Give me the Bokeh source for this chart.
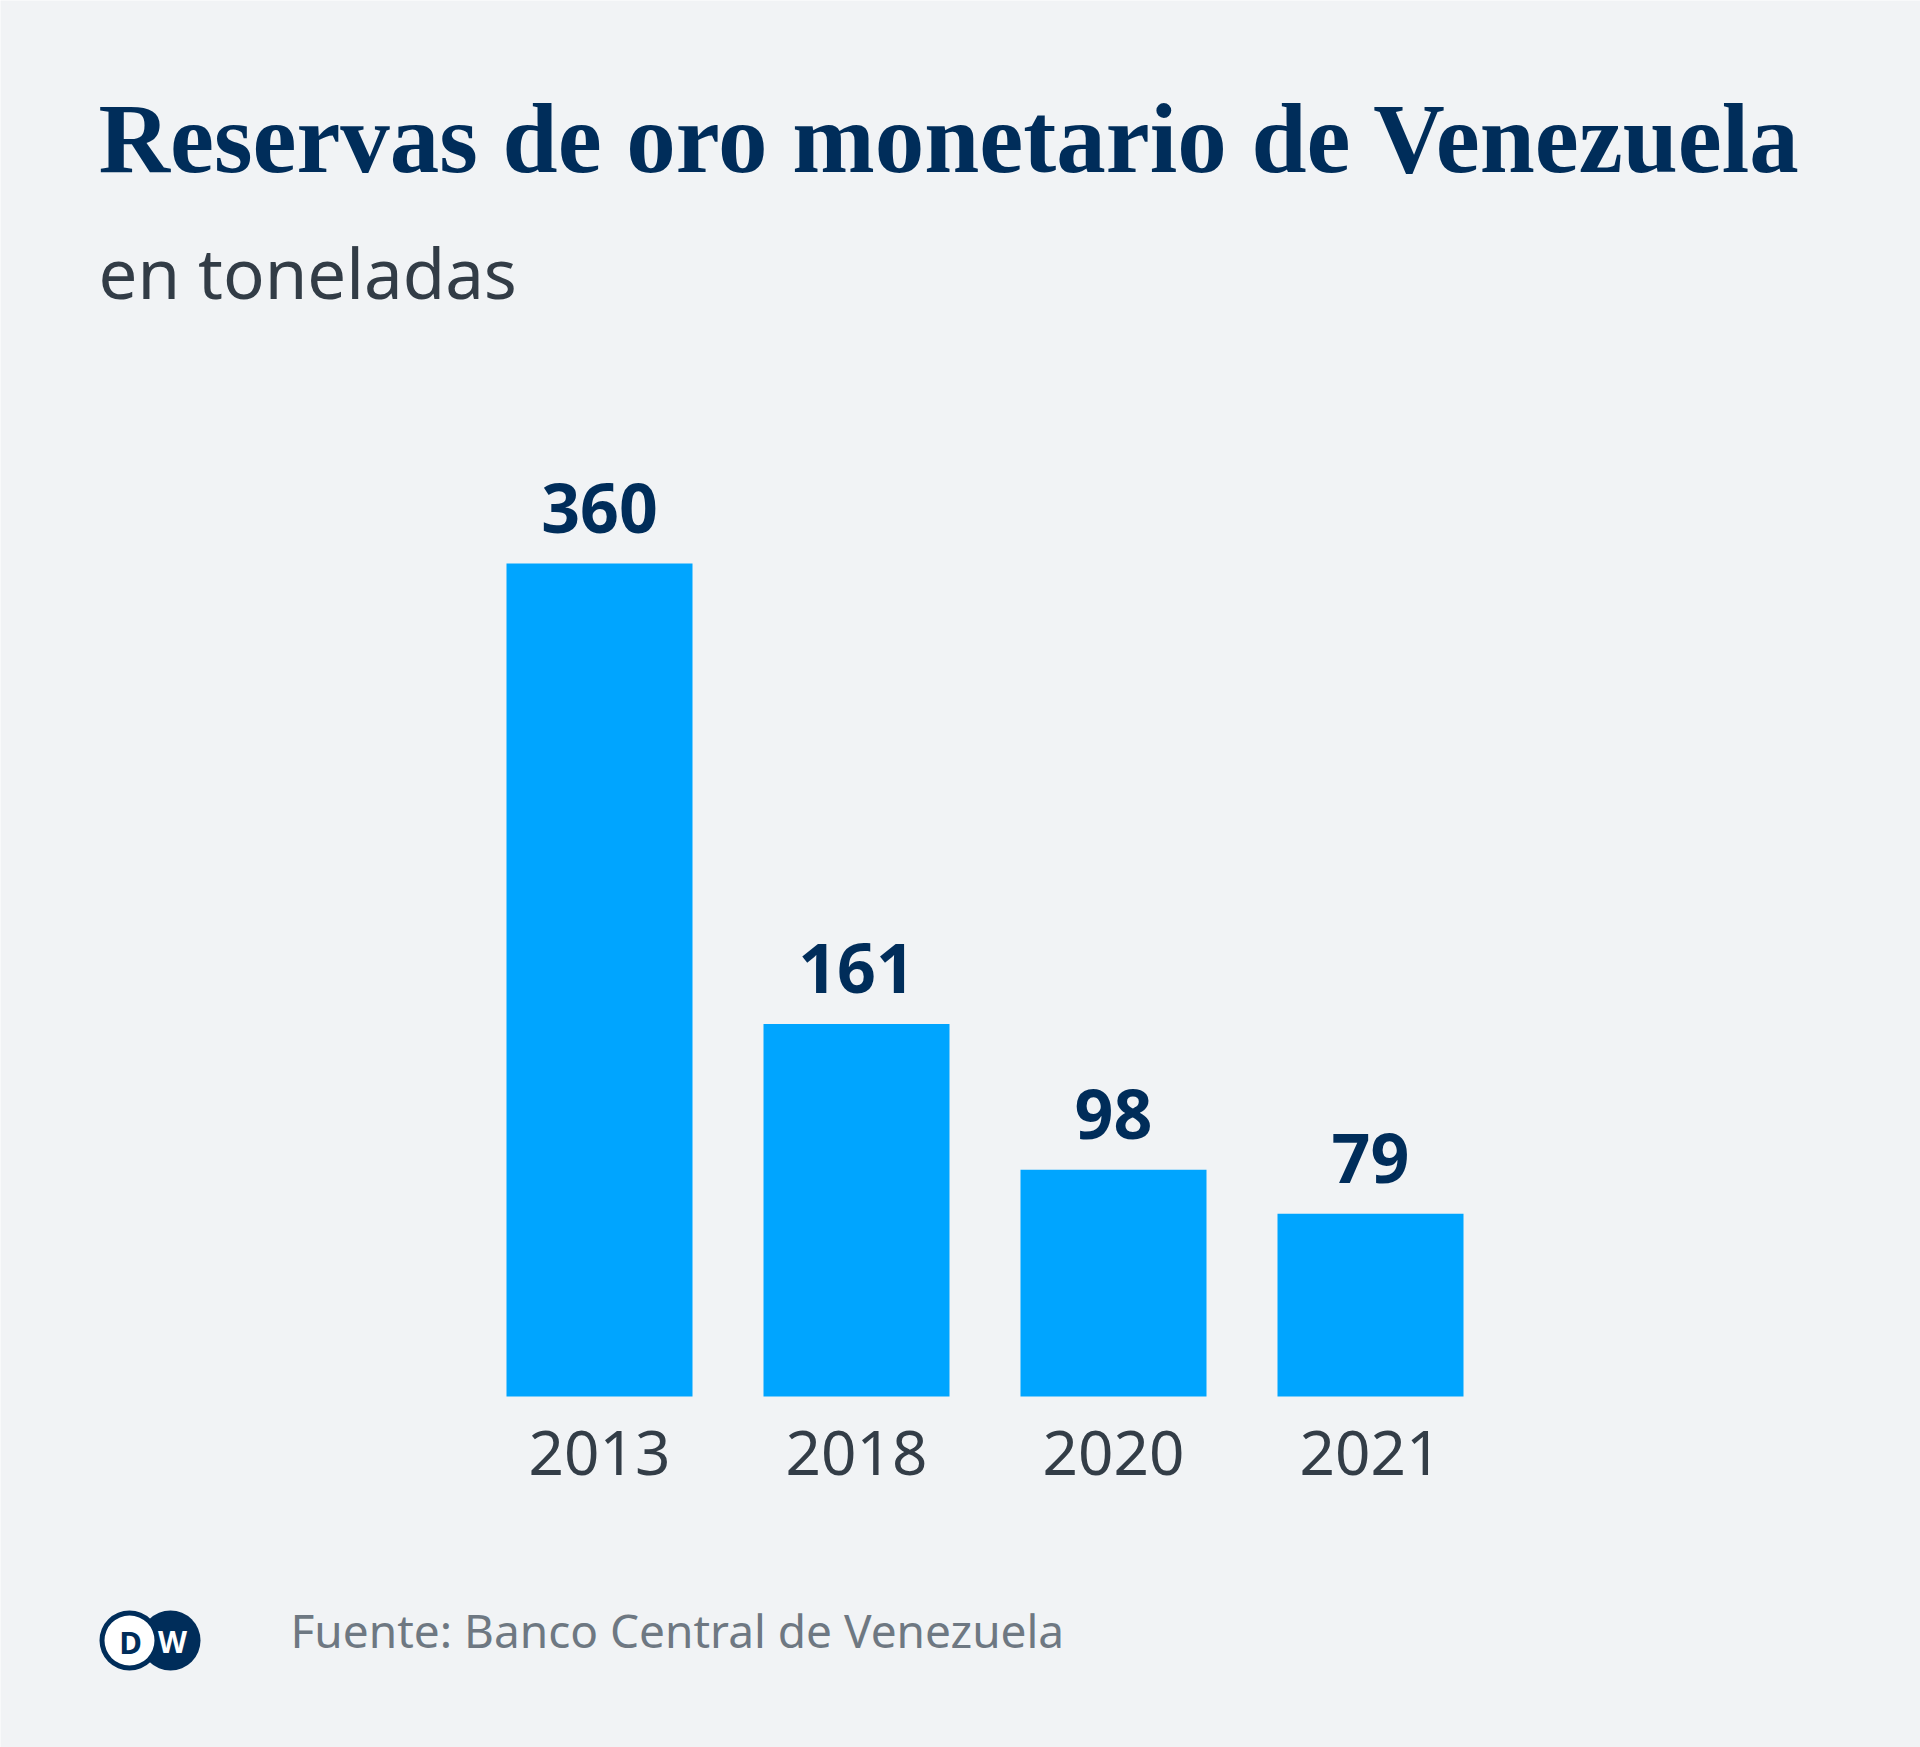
from bokeh.plotting import figure
from bokeh.models import Range1d, ColumnDataSource
from bokeh.core.properties import value
from bokeh.embed import file_html
from bokeh.resources import INLINE

# ---- data ----
years = ["2013", "2018", "2020", "2021"]
tons = [360, 161, 98, 79]
value_labels = ["360", "161", "98", "79"]
title_text = "Reservas de oro monetario de Venezuela"
subtitle_text = "en toneladas"
source_text = "Fuente: Banco Central de Venezuela"

# ---- style / layout ----
W, H = 1920, 1747
BG = "#f1f3f5"
NAVY = "#002d5a"
BAR = "#00a5ff"
GREY_DARK = "#333d47"
GREY_SRC = "#6e7882"

bar_pitch = 257.0        # px between bar centres
first_center = 599.0     # px, centre of first bar
base_px = 1396.0         # px from top, bars' baseline
px_per_unit = 833.0 / 360.0
bar_width_px = 186.0

x_start = -first_center / bar_pitch
x_end = x_start + W / bar_pitch
y_start = -(H - base_px) / px_per_unit
y_end = y_start + H / px_per_unit

p = figure(width=W, height=H,
           x_range=Range1d(x_start, x_end), y_range=Range1d(y_start, y_end),
           output_backend="svg", toolbar_location=None, min_border=0,
           x_axis_location=None, y_axis_location=None,
           background_fill_color=BG, border_fill_color=BG, outline_line_color=None)
p.grid.visible = False
p.extra_x_ranges = {"px": Range1d(0, W)}
p.extra_y_ranges = {"px": Range1d(H, 0)}

src = ColumnDataSource(dict(x=list(range(len(years))), top=tons, year=years, label=value_labels))

p.vbar(x="x", top="top", bottom=0, width=bar_width_px / bar_pitch, source=src,
       fill_color=BAR, line_color=None)

p.text(x="x", y="top", text="label", source=src, text_align="center",
       text_baseline="alphabetic", y_offset=-55,
       text_font=value("Noto Sans"), text_font_style="bold",
       text_font_size="68px", text_color=NAVY)

p.text(x="x", y=0, text="year", source=src, text_align="center",
       text_baseline="alphabetic", y_offset=56,
       text_font=value("Noto Sans"), text_font_size="62px", text_color=GREY_DARK)

# title & subtitle
p.text(x=[98], y=[138], text=[title_text], x_range_name="px", y_range_name="px",
       text_align="left", text_baseline="alphabetic",
       text_font=value("Liberation Serif"), text_font_style="bold",
       text_font_size="99px", text_color=NAVY)
p.text(x=[98], y=[271], text=[subtitle_text], x_range_name="px", y_range_name="px",
       text_align="left", text_baseline="alphabetic",
       text_font=value("Noto Sans"), text_font_size="69px", text_color="#323c46")

# footer
p.text(x=[290], y=[1629], text=[source_text], x_range_name="px", y_range_name="px",
       text_align="left", text_baseline="alphabetic",
       text_font=value("Noto Sans"), text_font_size="46px", text_color=GREY_SRC)

# DW logo
p.scatter(x=[170], y=[1640], size=60, marker="circle", fill_color=NAVY, line_color=None,
          x_range_name="px", y_range_name="px")
p.scatter(x=[129], y=[1640], size=60, marker="circle", fill_color=NAVY, line_color=None,
          x_range_name="px", y_range_name="px")
p.scatter(x=[129], y=[1640], size=50, marker="circle", fill_color="white", line_color=None,
          x_range_name="px", y_range_name="px")
p.text(x=[130], y=[1641], text=["D"], x_range_name="px", y_range_name="px",
       text_align="center", text_baseline="middle",
       text_font=value("Noto Sans"), text_font_style="bold",
       text_font_size="31px", text_color=NAVY)
p.text(x=[172], y=[1641], text=["W"], x_range_name="px", y_range_name="px",
       text_align="center", text_baseline="middle",
       text_font=value("Noto Sans"), text_font_style="bold",
       text_font_size="30px", text_color="white")

open("out.html", "w").write(file_html(p, INLINE))
